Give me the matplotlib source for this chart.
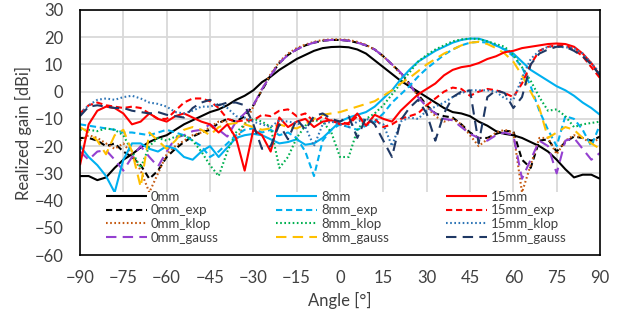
import matplotlib
matplotlib.use("Agg")
import matplotlib.pyplot as plt
from matplotlib.patches import Rectangle

plt.rcParams['font.family'] = ['Lato', 'DejaVu Sans']

# angle grid (deg)
angles = list(range(-90, 91, 3))

mm0 = [-31, -31, -32.5, -31.5, -28, -25, -23, -20.5, -18.5, -17,
       -16, -14, -12, -10.5, -9, -7.5, -6.5, -5, -3, -1.5,
       0.5, 3.5, 5.5, 8, 10, 12, 13.5, 15, 16, 16.4,
       16.5, 16.3, 15.5, 14, 11.5, 9, 6.5, 4, 2, 0,
       -2, -4, -6, -7.5, -8, -9, -11, -12.5, -14.5, -15.5,
       -16, -17, -18.5, -20, -22, -25, -28.5, -31.5, -30.5, -30.5,
       -32]
mm0_exp = [-17, -17, -18, -20, -19, -22, -24, -27, -32, -29,
           -24, -21, -18.5, -16.5, -15, -14, -11.5, -10, -11, -9,
           -5, 0.5, 6, 10.5, 13.5, 15.5, 17, 18, 18.7, 19,
           19, 18.7, 18, 17, 15.5, 13, 10, 7, 3, -1,
           -5, -8, -9, -9.5, -12, -15, -17, -17, -15.5, -14.5,
           -14.5, -25, -28, -18, -17.5, -22, -18.5, -16.5, -17, -18,
           -16.5]
mm0_klop = [-18, -16, -17, -19, -21, -19, -23, -29, -37, -30,
            -23, -20, -18, -16, -15, -13, -11, -11, -18, -12,
            -5.5, 1, 6.5, 11, 14, 16, 17.3, 18.3, 19, 19.2,
            19.2, 19, 18.3, 17.2, 15.5, 13, 10, 6.5, 2.5, -1.5,
            -5.5, -9, -11, -10, -12, -16, -20, -17.5, -15, -14,
            -15, -37, -27, -17, -17, -23, -18, -16, -17, -19,
            -17]
mm0_gauss = [-22, -25, -22, -21.5, -25, -29, -24, -20, -24, -27.5,
             -22, -17, -16, -14.5, -14, -12, -14, -16.5, -11, -8,
             -5, 1, 6, 10.5, 13.5, 15.5, 17, 18, 18.7, 19,
             19, 18.7, 18, 17, 15.5, 13, 10, 7, 3, -2,
             -5.5, -8, -10, -10.5, -13, -15.5, -17, -18, -16, -15,
             -16, -32, -25, -18, -20, -30, -18, -17, -21, -25,
             -22.5]

mm8 = [-20, -24, -27, -31, -37, -25, -19, -19, -21, -22,
       -20, -21, -24, -25, -22, -20, -24, -20.5, -17, -16,
       -15.5, -16, -17.5, -19, -18.5, -17.5, -19.5, -19, -17, -14,
       -11, -9.5, -8.5, -7.5, -5.5, -2.5, 0.5, 4.5, 8, 11,
       13, 15, 16.5, 18, 19, 19.5, 19.5, 18.5, 17, 15.5,
       14, 11, 8, 6, 4, 2, 0.5, -1.5, -4, -6,
       -8.5]
mm8_exp = [-12, -12.5, -13, -13.5, -14, -15, -15, -15.5, -16, -15,
           -14, -15, -16, -18, -20, -24, -22, -19, -16, -14,
           -13.5, -15, -14, -16, -15, -17, -22, -31, -18, -14,
           -12, -13, -14, -12.5, -11, -8, -4, -1, 2, 5.5,
           8.5, 11, 13.5, 15.5, 17, 18, 18.3, 18, 17, 15.5,
           13, 9, 2, -7, -14, -20, -9, -10, -14, -20,
           -12]
mm8_klop = [-14, -14, -14.5, -13.5, -14, -16, -22, -28, -20, -17,
            -18, -16.5, -16, -18, -22, -27, -31, -22, -15, -12,
            -10, -11, -13, -28, -24, -17, -12.5, -10.5, -11, -15,
            -24, -24, -14, -10, -8, -5, -1, 3, 7, 11,
            13.5, 15.5, 17, 18.5, 19.2, 19.5, 19.3, 18.5, 17.5, 16.5,
            13.5, 9, 4, -2, -7, -6.5, -9, -13, -12, -11.5,
            -11]
mm8_gauss = [-13, -15, -18, -23, -16, -14, -22, -35, -15, -18,
             -21, -18, -14, -13, -14, -16, -13, -12, -11.5, -12,
             -13, -14, -13.5, -12, -13, -13.5, -12, -10, -8.5, -8,
             -7.5, -6.5, -5.5, -4.5, -3.5, -1.5, 0.5, 3, 5, 7.5,
             10, 12, 14, 15.5, 17, 18, 18.3, 17.5, 16, 14,
             11, 6, 0, -6, -17, -15, -13, -14, -17, -19,
             -21]

mm15 = [-27, -12, -7, -5.5, -6, -8, -12, -11, -8, -10,
        -11, -9, -8, -9.5, -11, -12, -15, -12, -17, -29,
        -14, -16, -22, -9.5, -13, -11, -10, -13, -11, -10.5,
        -12, -11.5, -8, -12.5, -8.5, -10, -11, -7, -4, -1,
        1, 3, 6, 8, 9, 9.5, 10.5, 12, 13, 14.5,
        15, 16, 16.5, 17, 17.5, 17.7, 17.5, 16.5, 14, 10.5,
        6]
mm15_exp = [-8, -5, -4, -5, -5.5, -6, -5.5, -6, -8, -10,
            -10, -7, -4, -2.5, -2.5, -3.5, -6, -10, -11, -10.5,
            -10.5, -8.5, -9, -7, -6.5, -9, -8, -11, -9, -11,
            -11, -12, -9, -12, -10, -13, -12, -10, -9, -8,
            -5, -2.5, 0, 1.5, 1, -1.5, 0, 1, 0.5, -0.5,
            -2, 3, 10, 15, 16.5, 17, 17, 15.5, 13, 9,
            5]
mm15_klop = [-8, -5, -3, -2.5, -3, -2, -1.5, -2.5, -4, -4.5,
             -5.5, -7.5, -8, -7, -5.5, -5.5, -4.5, -6, -9, -9.5,
             -11, -12, -13, -10.5, -11, -11.5, -13, -20, -12, -11,
             -12, -13, -11, -10, -11, -12, -20, -11, -9.5, -10,
             -7, -5.5, -4, -2, -0.5, 0.5, 0.5, 0.5, 0, -2.5,
             -3, 5, 12, 15, 16.5, 16.5, 16.3, 16, 14, 10.5,
             6.8]
mm15_gauss = [-9, -5.5, -5, -5.5, -6, -6, -7, -7.5, -8, -7.5,
              -8.5, -9, -9.5, -6, -4, -3, -5, -4, -4, -5,
              -12, -21, -20, -12, -17.5, -10, -14, -9, -8, -10,
              -11, -9, -17, -9.5, -12, -18, -24, -10.5, -6, -3,
              -8, -18, -8, -2, 0, 0.5, -19, -2, 0.5, -0.5,
              -6, -2, 10, 14, 15.5, 16.5, 16.5, 15, 13, 10,
              6]

labels = ['0mm', '0mm_exp', '0mm_klop', '0mm_gauss',
          '8mm', '8mm_exp', '8mm_klop', '8mm_gauss',
          '15mm', '15mm_exp', '15mm_klop', '15mm_gauss']
series = [mm0, mm0_exp, mm0_klop, mm0_gauss,
          mm8, mm8_exp, mm8_klop, mm8_gauss,
          mm15, mm15_exp, mm15_klop, mm15_gauss]
colors = ['black', 'black', '#C55A11', '#9440D0',
          '#00B0F0', '#00B0F0', '#00B050', '#FFC000',
          '#FF0000', '#FF0000', '#2E75B6', '#1F3864']
solid = (0, ())
exp_ls = (0, (3, 1.8))
klop_ls = (0, (0.8, 1.2))
gauss_ls = (0, (5, 3))
styles = [solid, exp_ls, klop_ls, gauss_ls] * 3

fig = plt.figure(figsize=(6.27, 3.21), dpi=100)
ax = fig.add_axes([80 / 627, 1 - 255 / 321, 520 / 627, 245 / 321])

for y, lab, c, ls in zip(series, labels, colors, styles):
    ax.plot(angles, y, color=c, linestyle=ls, lw=1.5, label=lab)

ax.set_xlim(-90, 90)
ax.set_ylim(-60, 30)
ax.set_xticks(range(-90, 91, 15))
ax.set_yticks(range(-60, 31, 10))
ax.grid(True, color='#D9D9D9', lw=1.3)
ax.set_axisbelow(True)
ax.tick_params(length=0, labelsize=12, colors='#404040')
ax.tick_params(axis='x', pad=11)
ax.tick_params(axis='y', pad=12)
for s in ax.spines.values():
    s.set_color('black')
    s.set_linewidth(1.2)
    s.set_zorder(6)

ax.set_xlabel('Angle [°]', fontsize=12, color='#404040', labelpad=4)
ax.set_ylabel('Realized gain [dBi]', fontsize=12, color='#404040', labelpad=2)

# white band behind the legend
ax.add_patch(Rectangle((0, 0), 1, 0.257, transform=ax.transAxes,
                       facecolor='white', edgecolor='none', zorder=4))
leg = ax.legend(loc='upper left', bbox_to_anchor=(0.05, 0.262),
                ncol=3, fontsize=9.5, frameon=False, borderaxespad=0,
                handlelength=3.1, handletextpad=0.3, labelspacing=0.12,
                columnspacing=4.35, borderpad=0)
leg.set_zorder(5)
for t in leg.get_texts():
    t.set_color('#404040')

fig.savefig('out.png', dpi=100)
